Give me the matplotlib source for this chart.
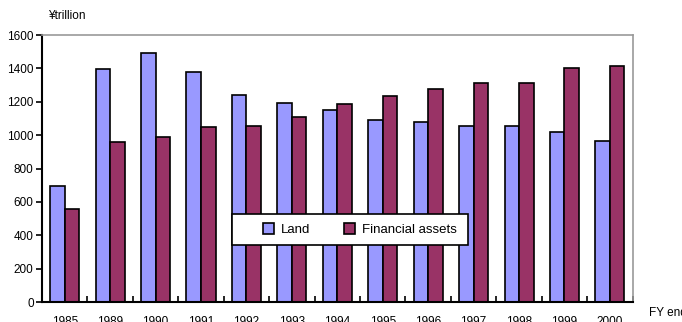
import numpy as np
import matplotlib.pyplot as plt
from matplotlib.patches import Rectangle
from matplotlib.ticker import FixedLocator

plt.rcParams["font.family"] = ["Liberation Sans", "DejaVu Sans"]

years = ["1985", "1989", "1990", "1991", "1992", "1993", "1994",
         "1995", "1996", "1997", "1998", "1999", "2000"]
land = [695, 1396, 1490, 1378, 1240, 1192, 1150, 1092, 1080, 1057, 1057, 1020, 967]
financial = [557, 959, 989, 1048, 1057, 1110, 1186, 1234, 1276, 1312, 1312, 1402, 1414]

land_color = "#9999FF"
fin_color = "#993366"

fig = plt.figure(figsize=(6.82, 3.22), dpi=100)
ax = fig.add_axes([0.0616, 0.062, 0.866, 0.829])

x = np.arange(len(years))
w = 0.32
ax.bar(x - w / 2, land, w, color=land_color, edgecolor="black", linewidth=1.2, label="Land")
ax.bar(x + w / 2, financial, w, color=fin_color, edgecolor="black", linewidth=1.2,
       label="Financial assets")

ax.set_xlim(-0.5, len(years) - 0.5)
ax.set_ylim(0, 1600)
ax.set_yticks(np.arange(0, 1601, 200))
ax.tick_params(axis="y", direction="out", length=4, width=1.2, labelsize=8.5, pad=2)

# year labels at bar centres, tick marks between groups
ax.set_xticks(x)
ax.set_xticklabels(years, fontsize=8.5)
ax.tick_params(axis="x", which="major", length=0, pad=10)
ax.xaxis.set_minor_locator(FixedLocator(np.arange(-0.5, len(years), 1.0)))
ax.tick_params(axis="x", which="minor", direction="in", length=4, width=1.2)

for side in ("top", "right"):
    ax.spines[side].set_color("#999999")
    ax.spines[side].set_linewidth(1.2)
for side in ("left", "bottom"):
    ax.spines[side].set_color("black")
    ax.spines[side].set_linewidth(1.5)

# legend box drawn separately so it can be wider than the entries
box = Rectangle((0.3215, 0.2135), 0.3993, 0.1161, transform=ax.transAxes,
                facecolor="white", edgecolor="black", linewidth=1.2, zorder=5)
ax.add_patch(box)
leg = ax.legend(loc="center", bbox_to_anchor=(0.538, 0.272), ncol=2, fontsize=9.5,
                frameon=False, handlelength=0.85, handleheight=0.85,
                handletextpad=0.5, columnspacing=2.6)
leg.set_zorder(6)

fig.text(0.070, 0.95, "¥trillion", fontsize=8.5, ha="left", va="center")
fig.text(0.952, 0.028, "FY end", fontsize=8.5, ha="left", va="center")

fig.savefig("out.png", dpi=100)
